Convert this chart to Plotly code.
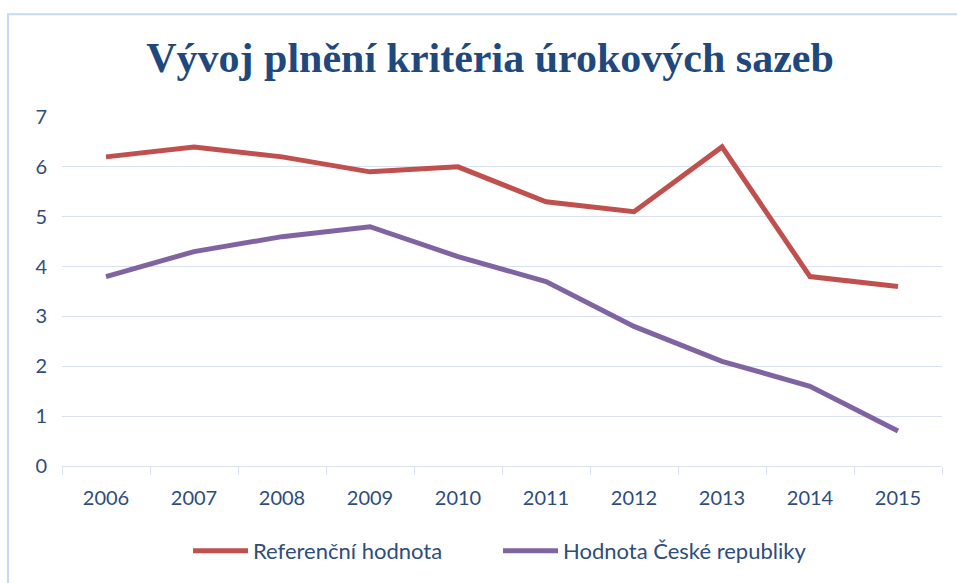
import plotly.graph_objects as go

years = ["2006", "2007", "2008", "2009", "2010", "2011", "2012", "2013", "2014", "2015"]
referencni = [6.2, 6.4, 6.2, 5.9, 6.0, 5.3, 5.1, 6.4, 3.8, 3.6]
cr = [3.8, 4.3, 4.6, 4.8, 4.2, 3.7, 2.8, 2.1, 1.6, 0.7]
y_ticks = [0, 1, 2, 3, 4, 5, 6, 7]

W, H = 957, 583
L, R, T, B = 62, 15, 117, 116
pw, ph = W - L - R, H - T - B

def px(x):
    return (x - L) / pw

def py(y):
    return (H - B - y) / ph

text_col = "#2E4D7B"
fig = go.Figure()
fig.add_trace(go.Scatter(x=years, y=referencni, mode="lines", name="Referenční hodnota",
                         line=dict(color="#C0504D", width=5)))
fig.add_trace(go.Scatter(x=years, y=cr, mode="lines", name="Hodnota České republiky",
                         line=dict(color="#8064A2", width=5)))

fig.update_layout(
    width=W, height=H,
    margin=dict(l=L, r=R, t=T, b=B),
    paper_bgcolor="white", plot_bgcolor="white",
    title=dict(text="<b>Vývoj plnění kritéria úrokových sazeb</b>",
               font=dict(family="Liberation Serif", size=42, color="#1F497D"),
               x=px(490), xref="paper", xanchor="center",
               y=1 - 57 / H, yref="container", yanchor="middle"),
    xaxis=dict(type="category", range=[-0.5, 9.5], showgrid=False, showline=True,
               linecolor="#D9E2F0", linewidth=1,
               ticks="outside", tickson="boundaries", ticklen=8, tickcolor="#D9E2F0",
               tickfont=dict(family="Lato", size=20, color=text_col), ticklabelstandoff=14),
    yaxis=dict(range=[0, 7], tickvals=y_ticks, showgrid=True, gridcolor="#D9E2F0", gridwidth=1,
               zeroline=False, showline=False, ticks="",
               tickfont=dict(family="Lato", size=20, color=text_col), ticklabelstandoff=14),
    legend=dict(orientation="h", x=px(188), xanchor="left", y=py(551), yanchor="middle",
                font=dict(family="Lato", size=22, color=text_col), itemwidth=55,
                entrywidth=240, entrywidthmode="pixels",
                bgcolor="rgba(0,0,0,0)"),
    showlegend=True,
)
fig.add_shape(type="rect", xref="paper", yref="paper",
              x0=px(8), x1=px(965), y0=py(595), y1=py(14),
              line=dict(color="#C6D9F1", width=2), layer="below")
fig.write_html("out.html", post_script="document.body.style.margin='0';",
               config={"displayModeBar": False})
